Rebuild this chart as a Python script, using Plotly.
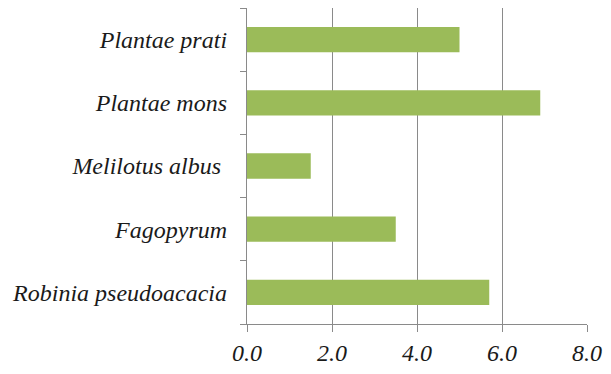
import plotly.graph_objects as go

# Plant species (bottom to top) and their values
species = [
    "Robinia pseudoacacia",
    "Fagopyrum",
    "Melilotus albus\u00a0",
    "Plantae mons",
    "Plantae prati",
]
values = [5.7, 3.5, 1.5, 6.9, 5.0]
x_ticks = [0, 2, 4, 6, 8]
x_tick_labels = ["0.0", "2.0", "4.0", "6.0", "8.0"]

serif_italic = dict(family="Liberation Serif", size=24, color="#1a1a1a", style="italic")

fig = go.Figure(
    go.Bar(
        x=values,
        y=species,
        orientation="h",
        width=0.4,
        marker=dict(color="#9BBB59", line=dict(width=0)),
    )
)

fig.update_layout(
    width=611,
    height=374,
    margin=dict(l=247, r=24, t=8, b=45),
    paper_bgcolor="white",
    plot_bgcolor="white",
    showlegend=False,
    font=serif_italic,
)

fig.update_xaxes(
    range=[0, 8],
    tickvals=x_ticks,
    ticktext=x_tick_labels,
    showgrid=True,
    gridcolor="#8a8a8a",
    gridwidth=1.3,
    zeroline=False,
    showline=True,
    linecolor="#8a8a8a",
    linewidth=1.3,
    ticks="outside",
    ticklen=7,
    tickcolor="#8a8a8a",
    tickwidth=1.3,
    tickfont=serif_italic,
)

fig.update_yaxes(
    type="category",
    tickvals=species,
    ticktext=species,
    tickson="boundaries",
    showgrid=False,
    showline=True,
    linecolor="#8a8a8a",
    linewidth=1.3,
    ticks="outside",
    ticklen=6,
    tickcolor="#8a8a8a",
    tickwidth=1.3,
    tickfont=serif_italic,
    ticklabelstandoff=14,
)

fig.write_html("out.html")
